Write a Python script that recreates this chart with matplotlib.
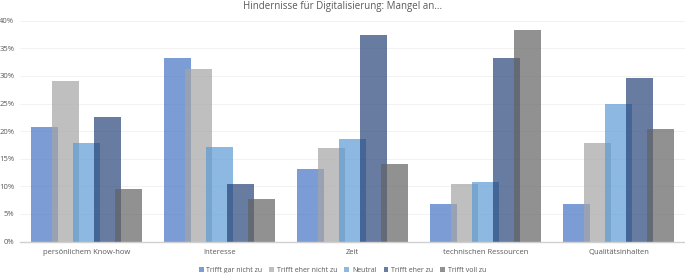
import matplotlib
matplotlib.use("Agg")
import matplotlib.pyplot as plt
import numpy as np

# categories and series values (share of answers in %)
categories = ["persönlichem Know-how", "Interesse", "Zeit",
              "technischen Ressourcen", "Qualitätsinhalten"]
series_names = ["Trifft gar nicht zu", "Trifft eher nicht zu", "Neutral",
                "Trifft eher zu", "Trifft voll zu"]
gar_nicht = [20.7, 33.2, 13.1, 6.9, 6.9]
eher_nicht = [29.0, 31.2, 16.9, 10.4, 17.8]
neutral = [17.8, 17.2, 18.5, 10.8, 24.9]
eher_zu = [22.5, 10.5, 37.4, 33.3, 29.7]
voll_zu = [9.5, 7.7, 14.0, 38.3, 20.4]
y_ticks = [0, 5, 10, 15, 20, 25, 30, 35, 40]

series = [gar_nicht, eher_nicht, neutral, eher_zu, voll_zu]
colors = ["#4472C4", "#A5A5A5", "#5B9BD5", "#264478", "#636363"]

plt.rcParams['font.family'] = ['Open Sans', 'DejaVu Sans']

fig = plt.figure(figsize=(6.85, 2.73), dpi=100)
ax = fig.add_axes([0.029, 0.115, 0.971, 0.809])

x = np.arange(len(categories))
width = 0.208
step = 0.158
for j, (vals, name, col) in enumerate(zip(series, series_names, colors)):
    ax.bar(x + (j - 2) * step, vals, width, color=col, alpha=0.7,
           label=name, zorder=2, linewidth=0)

ax.set_xlim(-0.5, len(categories) - 0.5)
ax.set_ylim(0, 40)
ax.set_yticks(y_ticks)
ax.set_yticklabels([f"{t}%" for t in y_ticks])
ax.set_xticks(x)
ax.set_xticklabels(categories)
ax.tick_params(axis='both', length=0, labelsize=5.5, colors='#595959')
ax.tick_params(axis='y', pad=4)
ax.tick_params(axis='x', pad=5)
ax.grid(axis='y', color='#F2F2F2', linewidth=0.7, zorder=0)
for side in ['top', 'right', 'left']:
    ax.spines[side].set_visible(False)
ax.spines['bottom'].set_color('#D0D0D0')
ax.spines['bottom'].set_linewidth(1.0)

fig.suptitle("Hindernisse für Digitalisierung: Mangel an...", y=0.995,
             fontsize=7, color='#595959')

fig.legend(loc='lower center', bbox_to_anchor=(0.5, -0.025), ncol=5,
           frameon=False, fontsize=5.0, labelcolor='#595959',
           handlelength=0.7, handleheight=0.7, handletextpad=0.4,
           columnspacing=1.0)

fig.savefig("out.png", dpi=100)
